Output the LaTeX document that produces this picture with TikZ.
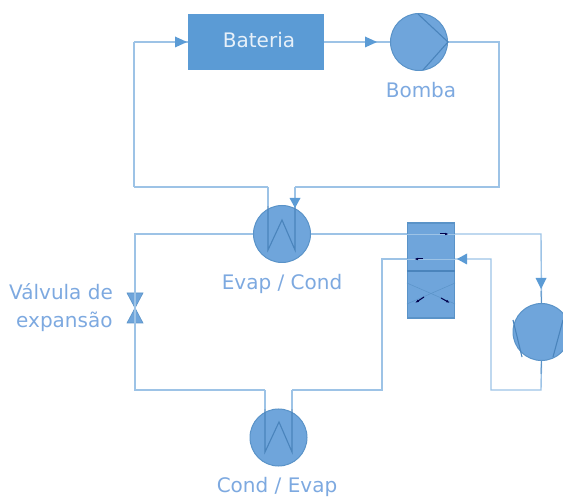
\documentclass[tikz,border=0pt]{standalone}
\usepackage{fontspec}
\setmainfont{DejaVu Sans}
\usetikzlibrary{arrows.meta}
\definecolor{linec}{HTML}{9DC3E6}
\definecolor{arrowc}{HTML}{5B9BD5}
\definecolor{fillc}{HTML}{6FA5DB}
\definecolor{edgec}{HTML}{5A93C8}
\definecolor{coilc}{HTML}{4A84BC}
\definecolor{textc}{HTML}{7DA9E0}
\definecolor{batc}{HTML}{5B9BD5}
\tikzset{
  flow/.style={draw=linec,line width=1.4pt},
  tip/.style={draw=none,fill=arrowc},
  disc/.style={circle,draw=edgec,fill=fillc,line width=1pt,minimum size=57pt,inner sep=0pt},
  coil/.style={draw=coilc,line width=1.1pt,line join=miter},
  lbl/.style={text=textc,font=\fontsize{20}{24}\selectfont,inner sep=0pt},
  blk/.style={draw=black!70!blue,line width=1pt,-{Latex[length=4pt,width=2.6pt]}},
  faint/.style={draw=edgec,line width=.5pt}
}
\begin{document}
\begin{tikzpicture}[x=1pt,y=-1pt]
\useasboundingbox (0,0) rectangle (563,497);
\clip (0,0) rectangle (563,497);
% coordinates
\coordinate (tl) at (134,42);
\coordinate (bl) at (134,187);
\coordinate (br) at (499,187);
\coordinate (tr) at (499,42);
\coordinate (evIn) at (268,187);
\coordinate (evOut) at (295,187);
\coordinate (l1) at (135,234);
\coordinate (l2) at (135,390);
\coordinate (cdL) at (265,390);
\coordinate (cdR) at (292,390);
\coordinate (r1) at (382,390);
\coordinate (r2) at (382,259);
\coordinate (c1) at (541,234);
\coordinate (c2) at (541,390);
\coordinate (c3) at (491,390);
\coordinate (c4) at (491,259);
% lines beneath
\draw[flow] (bl) -- (tl);
\node[draw=none,fill=batc,minimum width=136pt,minimum height=56pt,inner sep=0pt] (bat) at (256,42) {};
\node[text=white!85!batc,font=\fontsize{20}{24}\selectfont,inner sep=0pt] (batlabel) at (259,40) {Bateria};
\node[disc] (pump) at (419,42) {};
\node[disc] (evap) at (282,234) {};
\node[disc] (cond) at (278.5,437.5) {};
\node[disc] (comp) at (541.5,332) {};
\node[draw=edgec,fill=fillc,line width=1.2pt,minimum width=47pt,minimum height=95pt,inner sep=0pt] (box) at (431,270.5) {};
% valve
\node[inner sep=0pt,minimum size=0pt] (valve) at (135,308) {};
\fill[fillc,draw=edgec,line width=.6pt] (127,293) -- (143,293) -- (valve.center) -- (143,323) -- (127,323) -- (valve.center) -- cycle;
% connectors
\draw[flow] (tl) -- (bat.west |- tl);
\draw[tip] (187,42) -- (175,36.5) -- (175,47.5) -- cycle;
\draw[flow] (bat.east |- tl) -- (pump.west);
\draw[tip] (377,42) -- (365,36.5) -- (365,47.5) -- cycle;
\draw[flow] (pump.east) -- (tr) -- (br) -- (evOut);
\draw[flow] (bl) -- (evIn);
\draw[flow] (evap.west) -- (l1) -- (valve.north);
\draw[flow] (valve.south) -- (l2) -- (cdL);
\draw[flow] (cdR) -- (r1) -- (r2) -- (box.west |- r2);
\draw[flow] (evap.east) -- (box.west |- c1);
\draw[flow] (box.east |- c1) -- (c1) -- (comp.north);
\draw[flow] (comp.south) -- (c2) -- (c3) -- (c4) -- (box.east |- c4);
\draw[tip] (541,289) -- (535.5,278) -- (546.5,278) -- cycle;
\draw[tip] (457,259) -- (467,253.5) -- (467,264.5) -- cycle;
\draw[edgec,line width=1pt] (comp.north) -- (541,291);
\draw[edgec,line width=1pt] (comp.south) -- (541,374);
% heat exchanger coils
\draw[coil] (268,206) -- (268,250) -- (282,220) -- (295,250) -- (295,206);
\draw[flow] (evIn) -- (268,206);
\draw[flow] (evOut) -- (295,206);
\draw[tip] (295,208) -- (289.5,198) -- (300.5,198) -- cycle;
\draw[coil] (265,409) -- (265,452) -- (279,422) -- (292,452) -- (292,409);
\draw[flow] (cdL) -- (265,409);
\draw[flow] (cdR) -- (292,409);
% pump details
\draw[coil] (418,14) -- (pump.east) -- (423,70);
\draw[coil] (513,320) -- (522,357);
\draw[coil] (563,320) -- (553,357);
% box details
\draw[draw=coilc,line width=1.2pt] (box.west |- 0,271) -- (box.east |- 0,271);
\draw[flow,line width=.8pt] (box.west |- c1) -- (box.east |- c1);
\draw[flow,line width=.8pt] (box.west |- r2) -- (box.east |- r2);
\draw[faint] (box.west |- 0,283) -- (box.east |- 0,304);
\draw[faint] (box.west |- 0,304) -- (box.east |- 0,283);
\draw[blk] (440,234) -- (449,234);
\draw[blk] (423,259) -- (414,259);
\draw[blk] (424,297) -- (415,303);
\draw[blk] (441,298) -- (450,303);
% labels
\node[lbl] (lb) at (421,90) {Bomba};
\node[lbl] (le) at (282,284) {Evap / Cond};
\node[lbl] (lc) at (277,487) {Cond / Evap};
\node[lbl,anchor=west] (lv1) at (9,292) {Válvula de};
\node[lbl,anchor=west] (lv2) at (16,322) {expansão};
\end{tikzpicture}
\end{document}
